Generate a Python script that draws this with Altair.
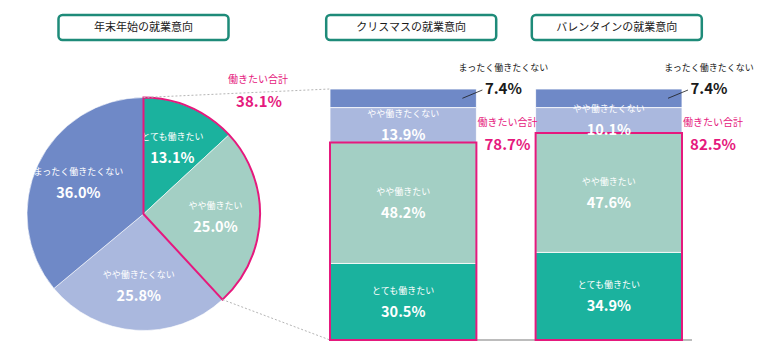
import math
import altair as alt
import pandas as pd

# ---------------- data ----------------
pie_title = "年末年始の就業意向"
bar_titles = ["クリスマスの就業意向", "バレンタインの就業意向"]
bar_names = ["クリスマス", "バレンタイン"]
segments = ["とても働きたい", "やや働きたい", "やや働きたくない", "まったく働きたくない"]
pie_values = [13.1, 25.0, 25.8, 36.0]
christmas_values = [30.5, 48.2, 13.9, 7.4]
valentine_values = [34.9, 47.6, 10.1, 7.4]
total_label = "働きたい合計"

# ---------------- style ----------------
colors = ["#1BB29E", "#A3CFC4", "#AAB8DE", "#6F89C7"]
PINK = "#E5197D"
TEAL = "#1E8B79"
GRAY = "#A6A6A6"
FONT = "Noto Sans CJK JP"
SMALL = 9

W, H = 748, 340
CX, CY, R = 135.5, 206.0, 116.5
BAR_RANGE = [322, 674]
PAD_INNER = 0.288
Y_RANGE = [332, 81]


def pct(v):
    return f"{v:.1f}%"


pie_df = pd.DataFrame({"segment": segments, "value": pie_values, "order": list(range(4))})
pie_df["pct"] = pie_df["value"].map(pct)
pie_total = round(sum(pie_values[:2]), 1)
pie_sum = sum(pie_values)

rows = []
for name, vals in zip(bar_names, [christmas_values, valentine_values]):
    for i, (s, v) in enumerate(zip(segments, vals)):
        rows.append({"bar": name, "segment": s, "value": v, "order": i, "pct": pct(v)})
bar_df = pd.DataFrame(rows)

tot_df = pd.DataFrame({
    "bar": bar_names,
    "total": [round(sum(v[:2]), 1) for v in [christmas_values, valentine_values]],
})
tot_df["pct"] = tot_df["total"].map(pct)
tot_df["label"] = total_label

color_scale = alt.Scale(domain=segments, range=colors)
x_scale = alt.Scale(domain=bar_names, range=BAR_RANGE, paddingInner=PAD_INNER, paddingOuter=0)
y_scale = alt.Scale(domain=[0, 100], range=Y_RANGE, nice=False, zero=True)

# ---------------- pie ----------------
pie_base = alt.Chart(pie_df).encode(
    theta=alt.Theta("value:Q", stack=True),
    order=alt.Order("order:Q"),
    x=alt.value(CX),
    y=alt.value(CY),
)
pie = pie_base.mark_arc(radius=R, stroke="white", strokeWidth=0.6).encode(
    color=alt.Color("segment:N", scale=color_scale, legend=None)
)
pie_lab = pie_base.mark_text(radius=72, dy=-11, font=FONT, fontSize=SMALL, color="white").encode(
    text="segment:N"
)
pie_val = pie_base.mark_text(
    radius=72, dy=11, font=FONT, fontSize=14.5, fontWeight="bold", color="white"
).encode(text="pct:N")

outline_df = pd.DataFrame({"start": [0.0], "end": [pie_total], "label": [total_label], "pct": [pct(pie_total)]})
pie_outline = alt.Chart(outline_df).mark_arc(
    radius=R, fillOpacity=0, stroke=PINK, strokeWidth=2
).encode(theta="start:Q", theta2="end:Q", x=alt.value(CX), y=alt.value(CY))

pie_tot_lab = alt.Chart(outline_df).mark_text(font=FONT, fontSize=10, color=PINK).encode(
    x=alt.value(250), y=alt.value(72), text="label:N"
)
pie_tot_val = alt.Chart(outline_df).mark_text(
    font=FONT, fontSize=15, fontWeight="bold", color=PINK
).encode(x=alt.value(251), y=alt.value(94), text="pct:N")

# connectors pie -> christmas bar
ang = 2 * math.pi * pie_total / pie_sum
px, py = CX + R * math.sin(ang), CY - R * math.cos(ang)
conn1 = alt.Chart(outline_df).mark_rule(color="#B5B5B5", strokeWidth=1, strokeDash=[2, 2]).encode(
    x=alt.value(CX), y=alt.value(CY - R), x2=alt.value(BAR_RANGE[0]), y2=alt.value(Y_RANGE[1])
)
conn2 = alt.Chart(outline_df).mark_rule(color="#B5B5B5", strokeWidth=1, strokeDash=[2, 2]).encode(
    x=alt.value(px), y=alt.value(py), x2=alt.value(BAR_RANGE[0]), y2=alt.value(Y_RANGE[0])
)

# ---------------- bars ----------------
bars = alt.Chart(bar_df).mark_bar(stroke="white", strokeWidth=0.8).encode(
    x=alt.X("bar:N", scale=x_scale, axis=None),
    y=alt.Y("value:Q", stack="zero", scale=y_scale, axis=None),
    color=alt.Color("segment:N", scale=color_scale, legend=None),
    order=alt.Order("order:Q"),
)

baseline = alt.Chart(outline_df).mark_rule(color=GRAY, strokeWidth=1.5).encode(
    x=alt.value(BAR_RANGE[0]), x2=alt.value(684), y=alt.value(Y_RANGE[0])
)

tot_rect = alt.Chart(tot_df).mark_bar(fillOpacity=0, stroke=PINK, strokeWidth=2).encode(
    x=alt.X("bar:N", scale=x_scale, axis=None),
    y=alt.Y("total:Q", scale=y_scale, axis=None),
)

stacked = alt.Chart(bar_df).transform_stack(
    stack="value", groupby=["bar"], sort=[alt.SortField("order", order="ascending")], as_=["y0", "y1"]
).transform_calculate(mid="(datum.y0 + datum.y1) / 2")

inner = stacked.transform_filter("datum.order < 3")
seg_lab = inner.mark_text(dy=-11, font=FONT, fontSize=SMALL, color="white").encode(
    x=alt.X("bar:N", scale=x_scale, axis=None),
    y=alt.Y("mid:Q", scale=y_scale, axis=None),
    text="segment:N",
)
seg_val = inner.mark_text(dy=11, font=FONT, fontSize=14.5, fontWeight="bold", color="white").encode(
    x=alt.X("bar:N", scale=x_scale, axis=None),
    y=alt.Y("mid:Q", scale=y_scale, axis=None),
    text="pct:N",
)

top = stacked.transform_filter("datum.order == 3")
top_lab = top.mark_text(dx=27, dy=-21, font=FONT, fontSize=SMALL, color="#1a1a1a").encode(
    x=alt.X("bar:N", scale=x_scale, bandPosition=1, axis=None),
    y=alt.Y("y1:Q", scale=y_scale, axis=None),
    text="segment:N",
)
top_val = top.mark_text(dx=27, font=FONT, fontSize=15, fontWeight="bold", color="#1a1a1a").encode(
    x=alt.X("bar:N", scale=x_scale, bandPosition=1, axis=None),
    y=alt.Y("y1:Q", scale=y_scale, axis=None),
    text="pct:N",
)
leader = top.mark_rule(color="#1a1a1a", strokeWidth=0.8, xOffset=-14, x2Offset=6, y2Offset=1).encode(
    x=alt.X("bar:N", scale=x_scale, bandPosition=1, axis=None),
    x2=alt.X2(field="bar", bandPosition=1),
    y=alt.Y("mid:Q", scale=y_scale, axis=None),
    y2=alt.Y2(field="y1"),
)

tot_lab = alt.Chart(tot_df).mark_text(dx=31, font=FONT, fontSize=10, color=PINK).encode(
    x=alt.X("bar:N", scale=x_scale, bandPosition=1, axis=None),
    y=alt.value(115),
    text="label:N",
)
tot_val = alt.Chart(tot_df).mark_text(dx=31, font=FONT, fontSize=15, fontWeight="bold", color=PINK).encode(
    x=alt.X("bar:N", scale=x_scale, bandPosition=1, axis=None),
    y=alt.value(137),
    text="pct:N",
)

# ---------------- title boxes ----------------
step = (BAR_RANGE[1] - BAR_RANGE[0]) / (len(bar_names) - PAD_INNER)
bw = step * (1 - PAD_INNER)
centers = [CX] + [BAR_RANGE[0] + i * step + bw / 2 + 8 for i in range(len(bar_names))]
title_layers = []
for t, c in zip([pie_title] + bar_titles, centers):
    tdf = pd.DataFrame({"t": [t]})
    title_layers.append(
        alt.Chart(tdf).mark_rect(cornerRadius=4, fill="white", stroke=TEAL, strokeWidth=2.5).encode(
            x=alt.value(c - 85), x2=alt.value(c + 85), y=alt.value(7), y2=alt.value(32)
        )
    )
    title_layers.append(
        alt.Chart(tdf).mark_text(font=FONT, fontSize=11, color="#1a1a1a").encode(
            x=alt.value(c), y=alt.value(19.5), text="t:N"
        )
    )

chart = alt.layer(
    pie, pie_lab, pie_val, pie_outline, conn1, conn2,
    bars, baseline, tot_rect, seg_lab, seg_val, leader, top_lab, top_val,
    tot_lab, tot_val, pie_tot_lab, pie_tot_val, *title_layers,
).properties(
    width=W, height=H, padding=0, autosize=alt.AutoSizeParams(type="none"), background="white"
).configure_view(stroke=None)

chart.save("out.html", embed_options={"renderer": "svg", "actions": False})
